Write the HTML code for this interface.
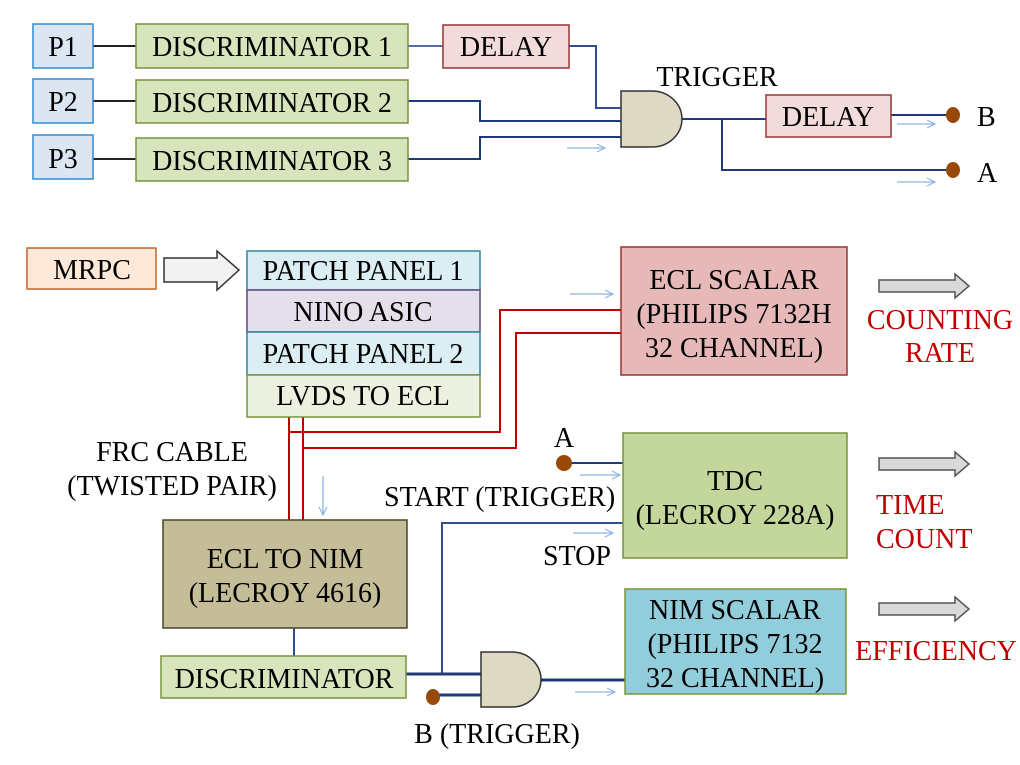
<!DOCTYPE html>
<html><head><meta charset="utf-8"><style>
html,body{margin:0;padding:0;background:#fff;}
svg{display:block;}
text{font-family:"Liberation Serif",serif;font-size:28px;fill:#000;}
.r{fill:#c00000;}
</style></head><body>
<svg width="1020" height="765" viewBox="0 0 1020 765" xmlns="http://www.w3.org/2000/svg">
<defs>
<marker id="ah" markerWidth="10" markerHeight="10" refX="9" refY="5" orient="auto" markerUnits="userSpaceOnUse">
<path d="M1,1 L9,5 L1,9" fill="none" stroke="#8eb4e3" stroke-width="1.2"/></marker>
</defs>
<g fill="none" stroke-width="2">
<line x1="93" y1="46" x2="136" y2="46" stroke="#222"/>
<line x1="93" y1="101" x2="136" y2="101" stroke="#222"/>
<line x1="93" y1="159" x2="136" y2="159" stroke="#222"/>
<line x1="408" y1="46" x2="443" y2="46" stroke="#4f6fa0"/>
<polyline points="569,46 596,46 596,108 621,108" stroke="#2e4f8c"/>
<polyline points="408,101 480,101 480,121 621,121" stroke="#1f3a7a"/>
<polyline points="408,159 480,159 480,137 621,137" stroke="#1f3a7a"/>
<line x1="682" y1="119" x2="766" y2="119" stroke="#1f3a7a"/>
<polyline points="722,119 722,170 952,170" stroke="#1f3a7a"/>
<line x1="891" y1="115" x2="952" y2="115" stroke="#1f3a7a"/>
<line x1="289" y1="417" x2="289" y2="520" stroke="#c00000"/>
<line x1="303" y1="417" x2="303" y2="520" stroke="#c00000"/>
<polyline points="289,432 500,432 500,310 622,310" stroke="#c00000"/>
<polyline points="303,448 516,448 516,333 622,333" stroke="#c00000"/>
<line x1="564" y1="463" x2="623" y2="463" stroke="#1f3a7a"/>
<polyline points="442,675 442,523 623,523" stroke="#2e4f8c"/>
<line x1="294" y1="628" x2="294" y2="656" stroke="#2e4f8c"/>
<line x1="406" y1="674" x2="481" y2="674" stroke="#1f3a7a" stroke-width="3"/>
<line x1="433" y1="695" x2="481" y2="695" stroke="#1f3a7a" stroke-width="3"/>
<line x1="541" y1="680" x2="625" y2="680" stroke="#1f3a7a" stroke-width="3"/>
</g>
<g stroke="#8eb4e3" stroke-width="1.3" marker-end="url(#ah)">
<line x1="567" y1="148" x2="605" y2="148"/>
<line x1="897" y1="124" x2="935" y2="124"/>
<line x1="897" y1="182" x2="935" y2="182"/>
<line x1="570" y1="294" x2="613" y2="294"/>
<line x1="580" y1="475" x2="620" y2="475"/>
<line x1="573" y1="533" x2="613" y2="533"/>
<line x1="575" y1="692" x2="615" y2="692"/>
<line x1="323" y1="476" x2="323" y2="515"/>
</g>
<g stroke-width="1.5">
<rect x="33" y="24" width="60" height="44" fill="#dce6f2" stroke="#2e8bd0"/>
<rect x="33" y="79" width="60" height="44" fill="#dce6f2" stroke="#2e8bd0"/>
<rect x="33" y="135" width="60" height="44" fill="#dce6f2" stroke="#2e8bd0"/>
<rect x="136" y="24" width="272" height="44" fill="#d7e4bc" stroke="#77933c"/>
<rect x="136" y="80" width="272" height="43" fill="#d7e4bc" stroke="#77933c"/>
<rect x="136" y="138" width="272" height="43" fill="#d7e4bc" stroke="#77933c"/>
<rect x="443" y="25" width="126" height="43" fill="#f2dcdb" stroke="#953735"/>
<rect x="766" y="95" width="125" height="42" fill="#f2dcdb" stroke="#953735"/>
<path d="M621,91 L652,91 A30,28 0 0 1 652,147 L621,147 Z" fill="#ddd9c3" stroke="#333"/>
<path d="M481,652 L512,652 A29,27.5 0 0 1 512,707 L481,707 Z" fill="#ddd9c3" stroke="#333"/>
</g>
<g fill="#984807">
<ellipse cx="953" cy="115" rx="7" ry="8"/>
<ellipse cx="953" cy="170" rx="7" ry="8"/>
<ellipse cx="564" cy="463" rx="8" ry="8"/>
<ellipse cx="433" cy="697" rx="7" ry="8"/>
</g>
<g text-anchor="middle">
<text x="63" y="56">P1</text><text x="63" y="111">P2</text><text x="63" y="168">P3</text>
<text x="272" y="56">DISCRIMINATOR 1</text>
<text x="272" y="112">DISCRIMINATOR 2</text>
<text x="272" y="170">DISCRIMINATOR 3</text>
<text x="506" y="56">DELAY</text>
<text x="828" y="126">DELAY</text>
<text x="717" y="86">TRIGGER</text>
</g>
<text x="977" y="126">B</text><text x="977" y="182">A</text>
<g stroke-width="1.5">
<rect x="27" y="248" width="129" height="41" fill="#fde9d9" stroke="#c0672a"/>
<path d="M164,258 L217,258 L217,251 L239,270 L217,290 L217,282 L164,282 Z" fill="#f2f2f2" stroke="#333"/>
<rect x="247" y="251" width="233" height="39" fill="#daeef3" stroke="#31859c"/>
<rect x="247" y="290" width="233" height="42" fill="#e5dfec" stroke="#5f497a"/>
<rect x="247" y="332" width="233" height="43" fill="#daeef3" stroke="#31859c"/>
<rect x="247" y="375" width="233" height="42" fill="#ebf1de" stroke="#77933c"/>
<rect x="621" y="247" width="226" height="128" fill="#e6b9b8" stroke="#953735"/>
<rect x="623" y="433" width="224" height="125" fill="#c3d69b" stroke="#77933c"/>
<rect x="163" y="520" width="244" height="108" fill="#c4bd97" stroke="#494429"/>
<rect x="161" y="656" width="245" height="42" fill="#d7e4bc" stroke="#77933c"/>
<rect x="625" y="589" width="221" height="105" fill="#92cddc" stroke="#77933c"/>
<g fill="#d9d9d9" stroke="#555">
<path d="M879,280 L955,280 L955,274 L969,286 L955,298 L955,292 L879,292 Z"/>
<path d="M879,458 L955,458 L955,452 L969,464 L955,476 L955,470 L879,470 Z"/>
<path d="M879,603 L955,603 L955,597 L969,609 L955,621 L955,615 L879,615 Z"/>
</g>
</g>
<g text-anchor="middle">
<text x="92" y="279">MRPC</text>
<text x="363" y="280">PATCH PANEL 1</text>
<text x="363" y="321">NINO ASIC</text>
<text x="363" y="363">PATCH PANEL 2</text>
<text x="363" y="405">LVDS TO ECL</text>
<text x="734" y="289">ECL SCALAR</text>
<text x="734" y="323">(PHILIPS 7132H</text>
<text x="734" y="357">32 CHANNEL)</text>
<text x="735" y="490">TDC</text>
<text x="735" y="524">(LECROY 228A)</text>
<text x="285" y="568">ECL TO NIM</text>
<text x="285" y="602">(LECROY 4616)</text>
<text x="284" y="688">DISCRIMINATOR</text>
<text x="735" y="619">NIM SCALAR</text>
<text x="735" y="653">(PHILIPS 7132</text>
<text x="735" y="687">32 CHANNEL)</text>
<text x="172" y="461">FRC CABLE</text>
<text x="172" y="495">(TWISTED PAIR)</text>
<text x="564" y="447">A</text>
<text x="497" y="743">B (TRIGGER)</text>
<text class="r" x="940" y="329">COUNTING</text>
<text class="r" x="940" y="362">RATE</text>
<text class="r" x="936" y="660">EFFICIENCY</text>
</g>
<text x="384" y="506">START (TRIGGER)</text>
<text x="543" y="565">STOP</text>
<text class="r" x="876" y="514">TIME</text>
<text class="r" x="876" y="548">COUNT</text>
</svg>
</body></html>
